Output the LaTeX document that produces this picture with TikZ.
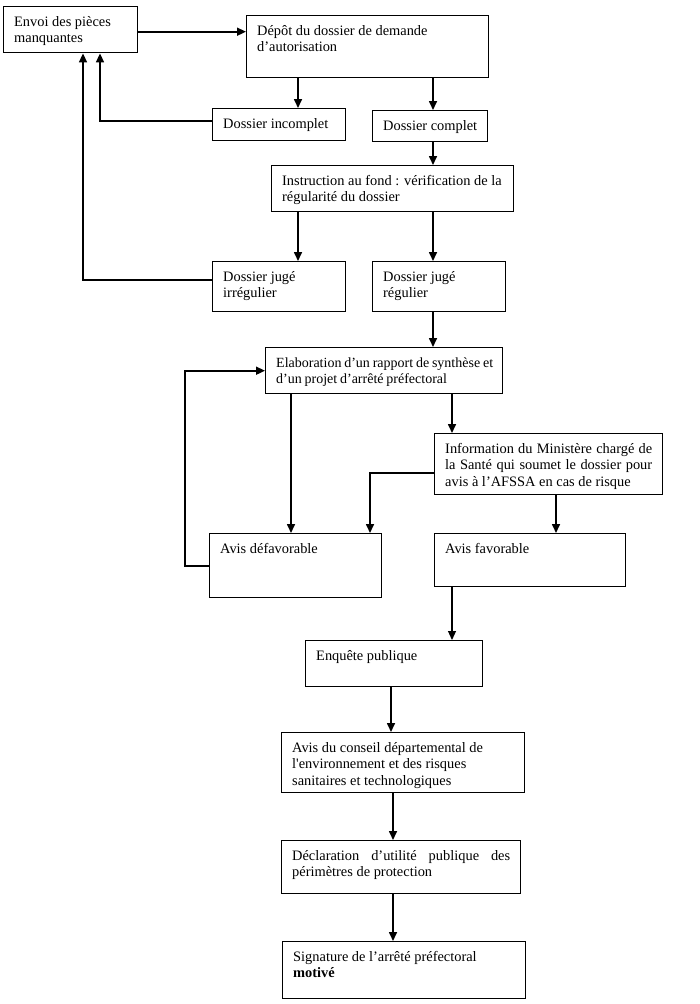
\documentclass[tikz,border=0pt]{standalone}
\usepackage{fontspec}
\setmainfont{Liberation Serif}[Ligatures=TeXOff]
\usetikzlibrary{arrows.meta}
\newcommand\tb[3]{\parbox[c][#2pt][t]{#1pt}{\raggedright\strut #3}}
\newcommand\tj[3]{\parbox[c][#2pt][t]{#1pt}{\strut #3}}
\begin{document}
\begin{tikzpicture}[x=1pt,y=-1pt,
  bx/.style 2 args={draw, line width=1.4pt, anchor=north west, inner xsep=10.5pt, inner ysep=8pt,
    minimum width=#1pt, minimum height=#2pt, font=\fontsize{14.4}{16.5}\selectfont},
  arr/.style={line width=1.6pt, -{Triangle[length=9pt,width=8pt]}},
  ln/.style={line width=1.6pt}]
\useasboundingbox (0,0) rectangle (700,1004);
\node[bx={134}{46}] (envoi) at (3,6) {\tb{113}{30}{Envoi des pièces\\manquantes}};
\node[bx={242}{62}] (depot) at (246,15) {\tb{221}{46}{Dépôt du dossier de demande\\d’autorisation}};
\node[bx={133}{32}] (incomp) at (212,108) {\tb{112}{16}{Dossier incomplet}};
\node[bx={115}{31}] (comp) at (372,110) {\tb{94}{15}{Dossier complet}};
\node[bx={242}{46}] (instr) at (271,165) {\tb{221}{30}{Instruction au fond : vérification de la\\régularité du dossier}};
\node[bx={133}{50}] (irreg) at (212,261) {\tb{112}{34}{Dossier jugé\\irrégulier}};
\node[bx={133}{50}] (reg) at (372,261) {\tb{112}{34}{Dossier jugé\\régulier}};
\node[bx={237}{46}] (elab) at (265,347) {\tb{216}{30}{\fontsize{14}{16.5}\selectfont\spaceskip=0.2em plus 0.1em minus 0.1em\makebox[216pt][l]{Elaboration d’un rapport de synthèse et}\\d’un projet d’arrêté préfectoral}};
\node[bx={228}{61}] (info) at (434,433) {\tj{207}{45}{Information du Ministère chargé de\linebreak la Santé qui soumet le dossier pour\linebreak avis à l’AFSSA en cas de risque}};
\node[bx={172}{64}] (defav) at (209,533) {\tb{151}{48}{Avis défavorable}};
\node[bx={191}{53}] (fav) at (434,533) {\tb{170}{37}{Avis favorable}};
\node[bx={177}{46}] (enq) at (305,640) {\tb{156}{30}{Enquête publique}};
\node[bx={243}{60}] (cons) at (281,732) {\tb{222}{44}{Avis du conseil départemental de\\l'environnement et des risques\\sanitaires et technologiques}};
\node[bx={239}{53}] (decl) at (281,840) {\tj{218}{37}{Déclaration d’utilité publique des\linebreak périmètres de protection}};
\node[bx={243}{57}] (sig) at (282,941) {\tb{222}{41}{Signature de l’arrêté préfectoral\\\textbf{motivé}}};
% columns
\coordinate (c83) at (83,0);
\coordinate (c100) at (100,0);
\coordinate (c185) at (185,0);
\coordinate (c291) at (291,0);
\coordinate (c298) at (298,0);
\coordinate (c370) at (370,0);
\coordinate (c391) at (391,0);
\coordinate (c393) at (393,0);
\coordinate (c433) at (433,0);
\coordinate (c452) at (452,0);
\coordinate (c556) at (556,0);
% connectors
\draw[arr] ([yshift=-2pt]envoi.east) -- ([yshift=-2pt]envoi.east -| depot.west);
\draw[arr] (depot.south -| c298) -- (incomp.north -| c298);
\draw[arr] (depot.south -| c433) -- (comp.north -| c433);
\draw[arr] ([yshift=4pt]incomp.west) -| (envoi.south -| c100);
\draw[arr] (comp.south -| c433) -- (instr.north -| c433);
\draw[arr] (instr.south -| c298) -- (irreg.north -| c298);
\draw[arr] (instr.south -| c433) -- (reg.north -| c433);
\draw[arr] ([yshift=7pt]irreg.west) -| (envoi.south -| c83);
\draw[arr] (reg.south -| c433) -- (elab.north -| c433);
\draw[arr] (defav.west) -- (defav.west -| c185) |- (elab.west);
\draw[arr] (elab.south -| c291) -- (defav.north -| c291);
\draw[arr] (elab.south -| c452) -- (info.north -| c452);
\draw[arr] ([yshift=-9pt]info.west) -| (defav.north -| c370);
\draw[arr] (info.south -| c556) -- (fav.north -| c556);
\draw[arr, line width=1.1pt] (fav.south -| c452) -- (enq.north -| c452);
\draw[arr] (enq.south -| c391) -- (cons.north -| c391);
\draw[arr] (cons.south -| c393) -- (decl.north -| c393);
\draw[arr] (decl.south -| c393) -- (sig.north -| c393);
\end{tikzpicture}
\end{document}
